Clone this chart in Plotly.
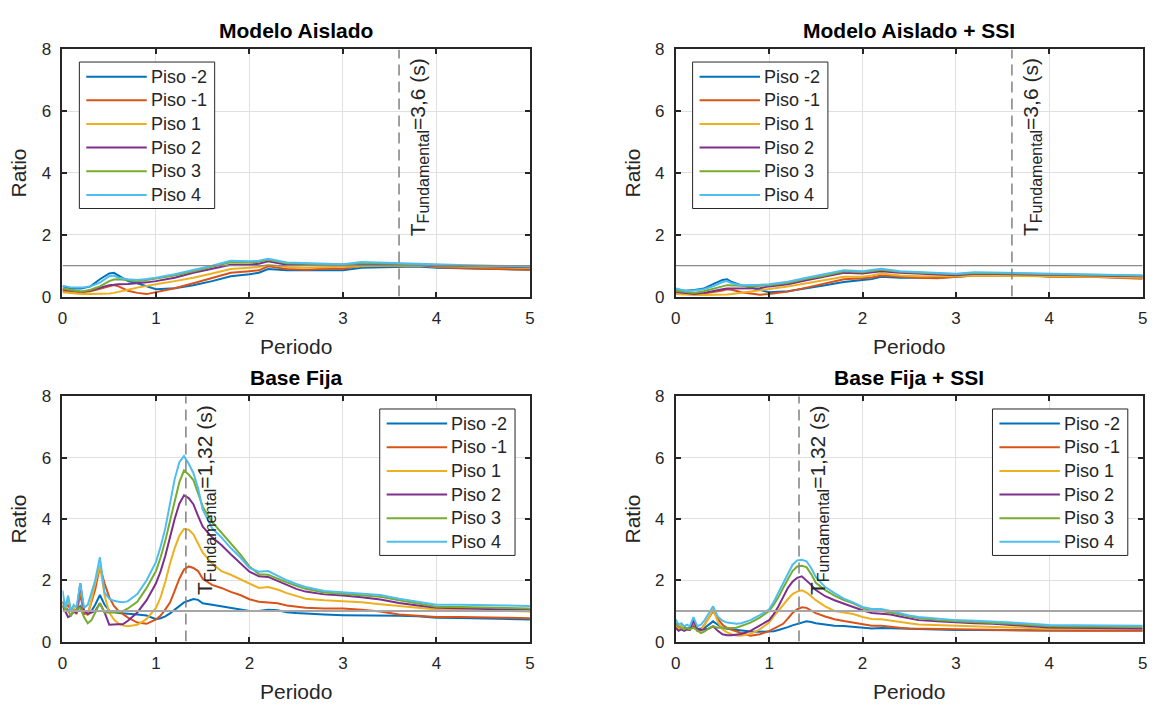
import plotly.graph_objects as go

# ---------------------------------------------------------------- canvas
W, H = 1155, 709
FONT = "Arial, 'Liberation Sans', Helvetica, sans-serif"
INK = "#262626"

# ---------------------------------------------------------------- data
PISOS = ["Piso -2", "Piso -1", "Piso 1", "Piso 2", "Piso 3", "Piso 4"]
COLORES = ["#0072BD", "#D95319", "#EDB120", "#7E2F8E", "#77AC30", "#4DBEEE"]

# period axis shared by the isolated-base models
PERIODO_AISLADO = [0, 0.1, 0.2, 0.3, 0.4, 0.5, 0.55, 0.6, 0.7, 0.8, 0.9, 1.0, 1.2, 1.4, 1.6,
                   1.8, 2.0, 2.1, 2.2, 2.4, 2.6, 2.8, 3.0, 3.2, 3.4, 3.6, 3.8, 4.0, 4.5, 5.0]

# Modelo Aislado
AISLADO_P_2 = [0.33, 0.26, 0.26, 0.33, 0.56, 0.75, 0.77, 0.68, 0.50, 0.43, 0.33, 0.24, 0.27, 0.37, 0.50,
               0.66, 0.72, 0.77, 0.89, 0.85, 0.85, 0.84, 0.85, 0.93, 0.94, 0.95, 0.97, 0.93, 0.90, 0.87]
AISLADO_P_1 = [0.19, 0.16, 0.14, 0.17, 0.24, 0.33, 0.37, 0.33, 0.19, 0.12, 0.08, 0.14, 0.27, 0.43, 0.59,
               0.77, 0.82, 0.85, 0.98, 0.89, 0.87, 0.90, 0.90, 1.00, 1.00, 1.00, 1.03, 0.95, 0.90, 0.87]
AISLADO_P1 = [0.14, 0.10, 0.08, 0.08, 0.08, 0.10, 0.12, 0.16, 0.22, 0.29, 0.35, 0.40, 0.50, 0.61, 0.75,
              0.89, 0.93, 0.96, 1.03, 0.96, 0.93, 0.95, 0.98, 1.00, 1.00, 1.00, 1.00, 0.97, 0.95, 0.93]
AISLADO_P2 = [0.24, 0.20, 0.16, 0.20, 0.28, 0.37, 0.38, 0.40, 0.41, 0.43, 0.46, 0.50, 0.61, 0.77, 0.89,
              1.03, 1.03, 1.06, 1.14, 1.03, 1.03, 1.02, 1.03, 1.05, 1.04, 1.03, 1.02, 0.98, 0.98, 0.95]
AISLADO_P3 = [0.26, 0.20, 0.16, 0.22, 0.33, 0.50, 0.55, 0.56, 0.52, 0.50, 0.54, 0.58, 0.68, 0.82, 0.96,
              1.11, 1.10, 1.13, 1.19, 1.08, 1.06, 1.04, 1.03, 1.08, 1.07, 1.06, 1.05, 1.00, 1.00, 0.97]
AISLADO_P4 = [0.35, 0.29, 0.29, 0.33, 0.45, 0.66, 0.68, 0.61, 0.56, 0.54, 0.57, 0.61, 0.72, 0.85, 1.00,
              1.16, 1.14, 1.16, 1.22, 1.10, 1.08, 1.06, 1.05, 1.12, 1.10, 1.08, 1.07, 1.03, 1.00, 0.98]

# Modelo Aislado + SSI
AISLADO_SSI_P_2 = [0.24, 0.19, 0.21, 0.26, 0.40, 0.54, 0.56, 0.47, 0.37, 0.29, 0.20, 0.14, 0.17, 0.26, 0.37,
                   0.47, 0.54, 0.57, 0.64, 0.61, 0.61, 0.61, 0.64, 0.68, 0.68, 0.68, 0.68, 0.66, 0.64, 0.61]
AISLADO_SSI_P_1 = [0.14, 0.11, 0.08, 0.10, 0.14, 0.20, 0.24, 0.22, 0.14, 0.10, 0.06, 0.08, 0.16, 0.29, 0.43,
                   0.56, 0.59, 0.62, 0.68, 0.64, 0.61, 0.59, 0.63, 0.68, 0.68, 0.68, 0.69, 0.64, 0.63, 0.58]
AISLADO_SSI_P1 = [0.08, 0.06, 0.05, 0.05, 0.05, 0.06, 0.07, 0.08, 0.12, 0.16, 0.20, 0.24, 0.33, 0.43, 0.54,
                  0.64, 0.64, 0.68, 0.75, 0.68, 0.66, 0.65, 0.66, 0.68, 0.68, 0.68, 0.67, 0.66, 0.64, 0.61]
AISLADO_SSI_P2 = [0.16, 0.12, 0.08, 0.12, 0.19, 0.24, 0.26, 0.26, 0.26, 0.26, 0.27, 0.33, 0.40, 0.53, 0.64,
                  0.77, 0.75, 0.78, 0.82, 0.77, 0.74, 0.70, 0.69, 0.74, 0.73, 0.72, 0.71, 0.69, 0.68, 0.66]
AISLADO_SSI_P3 = [0.19, 0.15, 0.12, 0.17, 0.24, 0.33, 0.37, 0.37, 0.35, 0.33, 0.35, 0.37, 0.45, 0.58, 0.68,
                  0.82, 0.79, 0.82, 0.87, 0.80, 0.77, 0.74, 0.72, 0.76, 0.76, 0.75, 0.74, 0.72, 0.70, 0.68]
AISLADO_SSI_P4 = [0.26, 0.19, 0.20, 0.24, 0.33, 0.47, 0.50, 0.43, 0.37, 0.37, 0.38, 0.40, 0.48, 0.61, 0.72,
                  0.85, 0.82, 0.85, 0.90, 0.82, 0.80, 0.77, 0.74, 0.79, 0.78, 0.77, 0.76, 0.74, 0.72, 0.68]

# period axis shared by the fixed-base models
PERIODO_FIJA = [0, 0.03, 0.06, 0.09, 0.12, 0.15, 0.19, 0.23, 0.27, 0.31, 0.35, 0.4, 0.45, 0.5, 0.55,
                0.6, 0.65, 0.7, 0.8, 0.9, 1.0, 1.05, 1.1, 1.15, 1.2, 1.25, 1.3, 1.35, 1.4, 1.45,
                1.5, 1.6, 1.7, 1.8, 1.9, 2.0, 2.1, 2.2, 2.3, 2.4, 2.5, 2.6, 2.8, 3.0, 3.2,
                3.4, 3.6, 3.8, 4.0, 4.25, 4.5, 4.75, 5.0]

# Base Fija
FIJA_P_2 = [1.30, 1.15, 1.00, 1.05, 0.95, 1.00, 1.15, 0.95, 0.93, 1.00, 1.20, 1.52, 1.20, 1.02, 0.96,
            0.93, 0.92, 0.92, 0.88, 0.85, 0.73, 0.76, 0.82, 0.92, 1.05, 1.18, 1.28, 1.33, 1.39, 1.36,
            1.25, 1.20, 1.15, 1.10, 1.05, 1.00, 1.00, 1.04, 1.02, 0.96, 0.93, 0.91, 0.88, 0.86, 0.86,
            0.84, 0.84, 0.83, 0.78, 0.77, 0.75, 0.74, 0.72]
FIJA_P_1 = [1.30, 1.10, 1.20, 1.00, 1.00, 0.90, 1.55, 0.90, 0.90, 1.30, 1.70, 2.45, 1.90, 1.45, 1.16,
            1.00, 0.88, 0.78, 0.62, 0.58, 0.72, 0.85, 1.05, 1.27, 1.65, 2.05, 2.35, 2.45, 2.40, 2.30,
            2.05, 1.85, 1.75, 1.62, 1.52, 1.38, 1.30, 1.28, 1.25, 1.18, 1.13, 1.10, 1.08, 1.08, 1.04,
            0.98, 0.88, 0.85, 0.80, 0.80, 0.80, 0.78, 0.76]
FIJA_P1 = [1.20, 1.00, 1.45, 1.00, 1.10, 0.95, 1.75, 1.00, 0.85, 1.40, 1.90, 2.50, 1.50, 0.95, 0.72,
           0.58, 0.52, 0.50, 0.55, 0.74, 1.10, 1.45, 1.95, 2.55, 3.05, 3.45, 3.68, 3.65, 3.50, 3.20,
           2.90, 2.55, 2.30, 2.18, 2.03, 1.88, 1.75, 1.78, 1.70, 1.58, 1.48, 1.40, 1.35, 1.32, 1.28,
           1.22, 1.16, 1.10, 1.05, 1.03, 1.02, 1.00, 0.98]
FIJA_P2 = [1.16, 0.95, 0.80, 0.85, 1.00, 0.95, 1.90, 1.00, 0.90, 0.95, 1.00, 1.25, 0.95, 0.55, 0.55,
           0.55, 0.57, 0.68, 0.95, 1.35, 1.90, 2.30, 2.80, 3.40, 4.00, 4.50, 4.77, 4.68, 4.48, 4.10,
           3.75, 3.40, 3.15, 2.85, 2.55, 2.28, 2.13, 2.11, 1.98, 1.85, 1.72, 1.63, 1.54, 1.50, 1.45,
           1.37, 1.26, 1.18, 1.10, 1.09, 1.08, 1.05, 1.03]
FIJA_P3 = [1.20, 1.05, 1.00, 0.85, 1.00, 1.05, 1.10, 0.80, 0.60, 0.70, 0.95, 1.25, 0.95, 0.95, 0.95,
           0.95, 1.00, 1.08, 1.30, 1.75, 2.30, 2.75, 3.30, 3.95, 4.60, 5.20, 5.58, 5.45, 5.27, 4.85,
           4.40, 3.90, 3.55, 3.20, 2.85, 2.45, 2.20, 2.18, 2.05, 1.93, 1.82, 1.72, 1.60, 1.56, 1.52,
           1.46, 1.35, 1.25, 1.14, 1.13, 1.12, 1.10, 1.08]
FIJA_P4 = [1.67, 1.10, 1.50, 1.00, 1.20, 1.10, 1.90, 1.10, 1.20, 1.60, 2.00, 2.75, 1.60, 1.40, 1.33,
           1.30, 1.28, 1.32, 1.55, 2.00, 2.60, 3.10, 3.70, 4.50, 5.30, 5.85, 6.05, 5.80, 5.50, 5.00,
           4.30, 3.70, 3.40, 3.05, 2.75, 2.40, 2.28, 2.30, 2.15, 2.00, 1.88, 1.78, 1.65, 1.60, 1.57,
           1.52, 1.40, 1.30, 1.20, 1.20, 1.20, 1.18, 1.16]

# Base Fija + SSI
FIJA_SSI_P_2 = [0.60, 0.50, 0.45, 0.48, 0.42, 0.45, 0.50, 0.42, 0.42, 0.45, 0.55, 0.66, 0.55, 0.45, 0.42,
                0.40, 0.37, 0.36, 0.33, 0.32, 0.32, 0.34, 0.38, 0.42, 0.47, 0.53, 0.58, 0.63, 0.66, 0.64,
                0.60, 0.56, 0.52, 0.51, 0.48, 0.45, 0.43, 0.44, 0.43, 0.42, 0.41, 0.40, 0.39, 0.38, 0.38,
                0.37, 0.37, 0.36, 0.36, 0.36, 0.36, 0.36, 0.36]
FIJA_SSI_P_1 = [0.55, 0.45, 0.50, 0.40, 0.40, 0.38, 0.60, 0.35, 0.38, 0.55, 0.75, 1.00, 0.75, 0.55, 0.45,
                0.38, 0.32, 0.28, 0.19, 0.24, 0.34, 0.42, 0.50, 0.58, 0.75, 0.93, 1.05, 1.12, 1.10, 1.02,
                0.93, 0.82, 0.73, 0.67, 0.62, 0.56, 0.52, 0.52, 0.48, 0.45, 0.43, 0.42, 0.41, 0.40, 0.39,
                0.38, 0.37, 0.36, 0.35, 0.35, 0.35, 0.35, 0.35]
FIJA_SSI_P1 = [0.50, 0.40, 0.55, 0.40, 0.45, 0.40, 0.65, 0.40, 0.35, 0.55, 0.75, 1.05, 0.65, 0.40, 0.30,
               0.24, 0.20, 0.19, 0.25, 0.40, 0.62, 0.82, 1.02, 1.20, 1.38, 1.55, 1.63, 1.67, 1.60, 1.48,
               1.35, 1.15, 1.00, 0.95, 0.90, 0.80, 0.74, 0.73, 0.68, 0.64, 0.60, 0.56, 0.54, 0.52, 0.50,
               0.48, 0.46, 0.44, 0.42, 0.42, 0.42, 0.42, 0.42]
FIJA_SSI_P2 = [0.45, 0.35, 0.40, 0.35, 0.40, 0.38, 0.70, 0.40, 0.38, 0.40, 0.42, 0.50, 0.35, 0.24, 0.21,
               0.21, 0.23, 0.25, 0.35, 0.52, 0.70, 0.90, 1.15, 1.45, 1.75, 1.95, 2.08, 2.13, 2.00, 1.85,
               1.68, 1.48, 1.35, 1.23, 1.13, 1.02, 0.93, 0.91, 0.88, 0.82, 0.76, 0.70, 0.66, 0.62, 0.60,
               0.58, 0.54, 0.50, 0.46, 0.45, 0.45, 0.44, 0.43]
FIJA_SSI_P3 = [0.60, 0.50, 0.45, 0.40, 0.45, 0.40, 0.45, 0.35, 0.28, 0.33, 0.42, 0.50, 0.45, 0.45, 0.44,
               0.44, 0.45, 0.50, 0.62, 0.78, 1.00, 1.20, 1.45, 1.75, 2.05, 2.30, 2.45, 2.47, 2.43, 2.20,
               1.92, 1.68, 1.50, 1.35, 1.25, 1.10, 1.00, 1.00, 0.95, 0.88, 0.82, 0.77, 0.70, 0.66, 0.64,
               0.62, 0.58, 0.54, 0.50, 0.49, 0.49, 0.48, 0.48]
FIJA_SSI_P4 = [0.72, 0.55, 0.60, 0.50, 0.55, 0.50, 0.80, 0.50, 0.55, 0.70, 0.90, 1.15, 0.82, 0.68, 0.62,
               0.60, 0.58, 0.60, 0.70, 0.86, 1.05, 1.30, 1.60, 1.95, 2.25, 2.50, 2.65, 2.67, 2.62, 2.40,
               2.10, 1.78, 1.58, 1.40, 1.28, 1.13, 1.06, 1.06, 1.00, 0.92, 0.85, 0.80, 0.74, 0.70, 0.68,
               0.66, 0.62, 0.58, 0.54, 0.53, 0.53, 0.52, 0.52]

RATIO_REFERENCIA = 1.0
X_TICKS = [0, 1, 2, 3, 4, 5]
Y_TICKS = [0, 2, 4, 6, 8]

# ---------------------------------------------------------------- panel layout (pixels)
COL_X = [(58.0, 529.5), (676.6, 1147.6)]
ROW_Y = [(41.5, 295.5), (398.0, 650.0)]


def fx(px):
    return px / W


def fy(py):
    return 1 - py / H


PANELES = [
    dict(titulo="Modelo Aislado", periodo=PERIODO_AISLADO,
         series=[AISLADO_P_2, AISLADO_P_1, AISLADO_P1, AISLADO_P2, AISLADO_P3, AISLADO_P4],
         t_fund=3.6, t_txt="3,6", col=0, row=0, ley_izq=True),
    dict(titulo="Modelo Aislado + SSI", periodo=PERIODO_AISLADO,
         series=[AISLADO_SSI_P_2, AISLADO_SSI_P_1, AISLADO_SSI_P1, AISLADO_SSI_P2,
                 AISLADO_SSI_P3, AISLADO_SSI_P4],
         t_fund=3.6, t_txt="3,6", col=1, row=0, ley_izq=True),
    dict(titulo="Base Fija", periodo=PERIODO_FIJA,
         series=[FIJA_P_2, FIJA_P_1, FIJA_P1, FIJA_P2, FIJA_P3, FIJA_P4],
         t_fund=1.32, t_txt="1,32", col=0, row=1, ley_izq=False),
    dict(titulo="Base Fija + SSI", periodo=PERIODO_FIJA,
         series=[FIJA_SSI_P_2, FIJA_SSI_P_1, FIJA_SSI_P1, FIJA_SSI_P2, FIJA_SSI_P3, FIJA_SSI_P4],
         t_fund=1.32, t_txt="1,32", col=1, row=1, ley_izq=False),
]

fig = go.Figure()
layout = dict(
    width=W, height=H,
    margin=dict(l=0, r=0, t=0, b=0),
    paper_bgcolor="white", plot_bgcolor="white",
    showlegend=False,
    font=dict(family=FONT, color=INK),
)

eje = dict(
    showline=True, linecolor=INK, linewidth=1.8, mirror="allticks",
    ticks="inside", ticklen=5, tickwidth=1.5, tickcolor=INK,
    showgrid=True, gridcolor="#e0e0e0", gridwidth=1,
    zeroline=False, fixedrange=True,
    tickfont=dict(family=FONT, size=17, color=INK),
)

annotations = []
shapes = []

for i, p in enumerate(PANELES):
    k = "" if i == 0 else str(i + 1)
    xa, ya = "x" + k, "y" + k
    x0, x1 = COL_X[p["col"]]
    y0, y1 = ROW_Y[p["row"]]

    layout["xaxis" + k] = dict(
        eje, domain=[fx(x0), fx(x1)], range=[0, 5], tickvals=X_TICKS,
        anchor=ya, ticklabelstandoff=5,
        title=dict(text="Periodo", font=dict(family=FONT, size=21, color=INK), standoff=12),
    )
    layout["yaxis" + k] = dict(
        eje, domain=[fy(y1), fy(y0)], range=[0, 8], tickvals=Y_TICKS,
        anchor=xa, ticklabelstandoff=6,
        title=dict(text="Ratio", font=dict(family=FONT, size=21, color=INK), standoff=9),
    )

    # response ratio per floor
    for nombre, color, ys in zip(PISOS, COLORES, p["series"]):
        fig.add_trace(go.Scatter(
            x=p["periodo"], y=ys, name=nombre, mode="lines",
            line=dict(color=color, width=2), xaxis=xa, yaxis=ya,
        ))

    # unit-ratio reference and fundamental period markers
    fig.add_trace(go.Scatter(
        x=[0, 5], y=[RATIO_REFERENCIA, RATIO_REFERENCIA], mode="lines",
        line=dict(color="#8a8a8a" if p["row"] == 0 else "#a6a6a6",
                  width=1.2 if p["row"] == 0 else 2),
        xaxis=xa, yaxis=ya, hoverinfo="skip",
    ))
    fig.add_trace(go.Scatter(
        x=[p["t_fund"], p["t_fund"]], y=[0, 8], mode="lines",
        line=dict(color="#808080", width=1.5, dash="11px,6px"),
        xaxis=xa, yaxis=ya, hoverinfo="skip",
    ))

    annotations.append(dict(
        x=p["t_fund"], y=7.78, xref=xa, yref=ya, xanchor="left", yanchor="top",
        xshift=5, textangle=-90, showarrow=False,
        text="T<sub><span style='font-size:16px'>Fundamental</span></sub>=" + p["t_txt"] + " (s)",
        font=dict(family=FONT, size=21, color=INK),
    ))

    # panel title
    annotations.append(dict(
        x=fx((x0 + x1) / 2), y=fy(y0 - 19.5), xref="paper", yref="paper",
        xanchor="center", yanchor="middle", showarrow=False,
        text="<b>" + p["titulo"] + "</b>",
        font=dict(family=FONT, size=21, color="#000000"),
    ))

    # legend box
    lx = x0 + 17 if p["ley_izq"] else x1 - 15 - 136.5
    ly = y0 + 13
    shapes.append(dict(
        type="rect", xref="paper", yref="paper", layer="above",
        x0=fx(lx), x1=fx(lx + 136.5), y0=fy(ly + 150.5), y1=fy(ly),
        line=dict(color=INK, width=1), fillcolor="white",
    ))
    for j, (nombre, color) in enumerate(zip(PISOS, COLORES)):
        yc = ly + 15 + 24.3 * j
        shapes.append(dict(
            type="line", xref="paper", yref="paper", layer="above",
            x0=fx(lx + 7), x1=fx(lx + 68), y0=fy(yc), y1=fy(yc),
            line=dict(color=color, width=2),
        ))
        annotations.append(dict(
            x=fx(lx + 70), y=fy(yc), xref="paper", yref="paper",
            xanchor="left", yanchor="middle", showarrow=False, text=nombre,
            font=dict(family=FONT, size=18, color=INK),
        ))

layout["annotations"] = annotations
layout["shapes"] = shapes
fig.update_layout(**layout)

fig.write_html("out.html")
